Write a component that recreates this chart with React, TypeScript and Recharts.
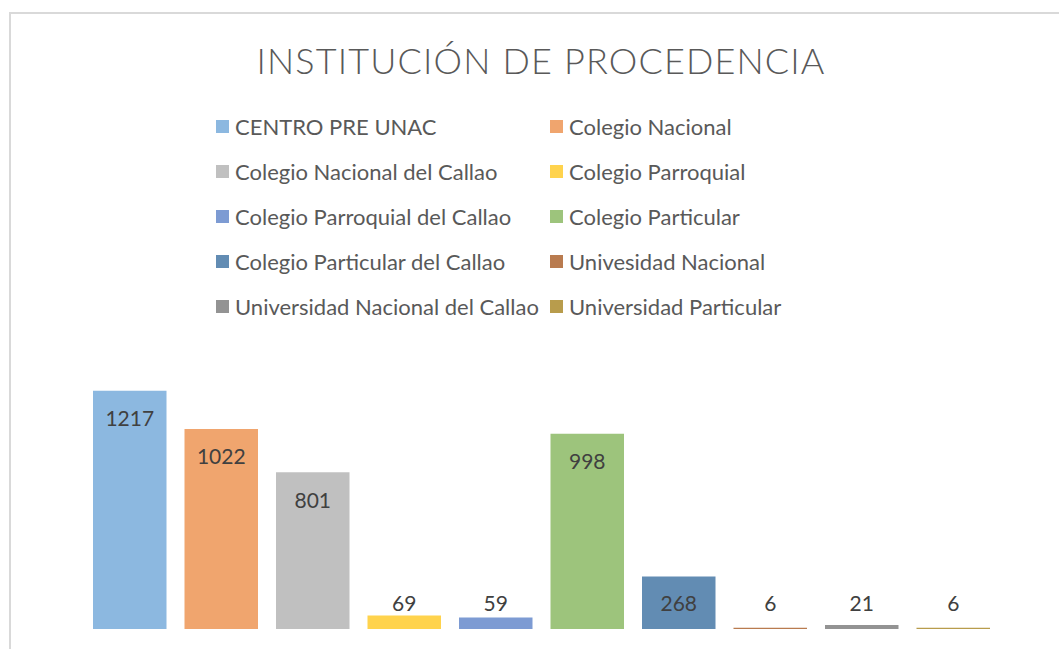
import React from 'react';
import { BarChart, Bar, XAxis, YAxis, Legend, LabelList } from 'recharts';

const categories = [
  'CENTRO PRE UNAC',
  'Colegio Nacional',
  'Colegio Nacional del Callao',
  'Colegio Parroquial',
  'Colegio Parroquial del Callao',
  'Colegio Particular',
  'Colegio Particular del Callao',
  'Univesidad Nacional',
  'Universidad Nacional del Callao',
  'Universidad Particular',
];
const values = [1217, 1022, 801, 69, 59, 998, 268, 6, 21, 6];
const colors = [
  '#8cb8e0', '#f0a56e', '#c0c0c0', '#ffd34d', '#7d9bd3',
  '#9dc47c', '#628cb3', '#b97b4f', '#939393', '#b89c4c',
];
const title = 'INSTITUCIÓN DE PROCEDENCIA';

const row: Record<string, number | string> = { name: 'total' };
categories.forEach((c, i) => { row[c] = values[i]; });
const data = [row];

const FONT = 'Lato, "Noto Sans", sans-serif';
const BASELINE = 629;

const renderLabel = (props: any) => {
  const { x, y, width, value } = props;
  const cy = Math.min(y + 27, BASELINE - 26.5);
  return (
    <text x={x + width / 2} y={cy} textAnchor="middle" dominantBaseline="central"
      fontFamily={FONT} fontSize={21} fill="#404040">{value}</text>
  );
};

const renderLegend = () => (
  <div style={{ display: 'grid', gridTemplateColumns: '334px 300px', rowGap: 0, fontFamily: FONT }}>
    {categories.map((c, i) => (
      <div key={c} style={{ display: 'flex', alignItems: 'center', height: 45, whiteSpace: 'nowrap' }}>
        <span style={{ display: 'inline-block', width: 13, height: 13, background: colors[i], marginRight: 6 }} />
        <span style={{ fontSize: 22, color: '#595959' }}>{c}</span>
      </div>
    ))}
  </div>
);

export default function App() {
  return (
    <div style={{ position: 'fixed', left: 0, top: 0, width: 1059, height: 649, overflow: 'hidden', background: '#fff' }}>
      <div style={{ position: 'absolute', left: 9, top: 12, width: 1100, height: 700, border: '2px solid #d9d9d9', boxSizing: 'border-box' }} />
      <div style={{ position: 'absolute', left: 0, top: 38, width: 1082, textAlign: 'center', fontFamily: FONT, fontWeight: 300, fontSize: 36, color: '#595959', letterSpacing: 1.15, whiteSpace: 'nowrap' }}>
        {title}
      </div>
      <div style={{ position: 'absolute', left: 0, top: 0 }}>
        <BarChart width={1059} height={649} data={data}
          margin={{ top: 355, right: 60, bottom: 20, left: 84 }}
          barGap={18}>
          <XAxis dataKey="name" hide />
          <YAxis hide domain={[0, 1400]} />
          <Legend layout="vertical" align="center" verticalAlign="middle"
            wrapperStyle={{ top: 104, left: 216, width: 640, height: 230 }}
            content={renderLegend} />
          {categories.map((c, i) => (
            <Bar key={c} dataKey={c} name={c} fill={colors[i]} barSize={73.5} isAnimationActive={false}>
              <LabelList dataKey={c} content={renderLabel} />
            </Bar>
          ))}
        </BarChart>
      </div>
    </div>
  );
}
